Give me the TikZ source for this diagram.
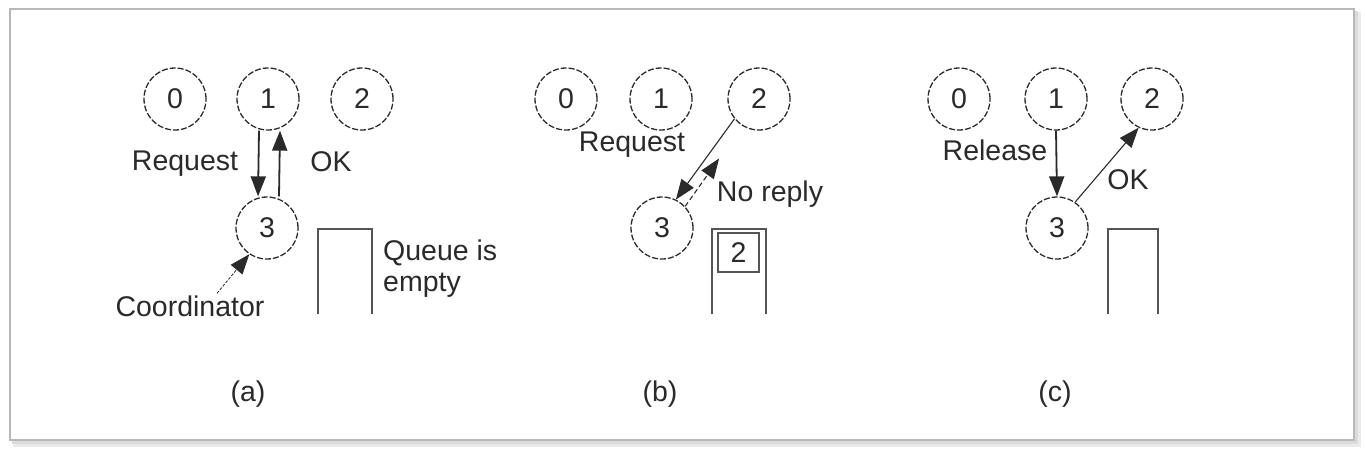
\documentclass[tikz,border=0pt]{standalone}
\usepackage{fontspec}
\setmainfont{Liberation Sans}
\usetikzlibrary{calc,arrows.meta}
\definecolor{ink}{HTML}{2A2A2A}
\definecolor{frm}{HTML}{B8B8B8}
\tikzset{
  proc/.style={circle,draw=ink,dash pattern=on 6pt off 2pt,line width=1.3pt,minimum size=62pt,inner sep=0pt,text=ink,font=\fontsize{28.5}{31}\selectfont},
  lbl/.style={text=ink,font=\fontsize{28.5}{31}\selectfont,inner sep=0pt},
  arr/.style={draw=ink,line width=1.8pt,-{Triangle[length=20pt,width=15pt]}},
  thinarr/.style={draw=ink,line width=1.1pt,-{Triangle[length=20pt,width=15pt]}},
  queue/.style={draw=ink!80,line width=1.5pt},
}
\begin{document}
\begin{tikzpicture}[x=1pt,y=-1pt]
\useasboundingbox (0,0) rectangle (1365,453);
% frame with shadow
\draw[draw=black!8,line width=6pt] (16,15) rectangle (1358,444);
\draw[draw=black!14,line width=3pt] (13,12) rectangle (1356,442);
\draw[fill=white,draw=frm,line width=2pt] (10,9) rectangle (1354,440);

% ---------- (a)
\node[proc] (a0) at (175,99) {0};
\node[proc] (a1) at (268,99) {1};
\node[proc] (a2) at (362,99) {2};
\node[proc] (a3) at (267,228) {3};
\draw[arr] ([xshift=-9pt]a1.south) -- ([xshift=-9pt]a3.north);
\draw[arr] ([xshift=12pt]a3.north) -- ([xshift=12pt]a1.south);
\node[lbl] (areq) at (185,164) {Request};
\node[lbl] (aok) at (331,162) {OK};
\node[lbl] (acoord) at (190,306) {Coordinator};
\draw[draw=ink,line width=0.8pt,dash pattern=on 3pt off 1.5pt,-{Triangle[length=20pt,width=15pt]}] ([xshift=27pt,yshift=2pt]acoord.north) -- (a3.236);
\draw[queue] (318,314) |- (372,229) -- (372,314);
\node[lbl,align=left,anchor=west] (aq) at (383,269) {Queue is\\empty};
\node[lbl] (acap) at (248,394) {(a)};

% ---------- (b)
\node[proc] (b0) at (566,99) {0};
\node[proc] (b1) at (661,99) {1};
\node[proc] (b2) at (759,99) {2};
\node[proc] (b3) at (662,228) {3};
\draw[thinarr] (b2.219) -- (b3.64);
\draw[thinarr,dash pattern=on 5pt off 3pt] (b3.43) -- (b2.238) [shorten >=40pt];
\node[lbl] (breq) at (632,145) {Request};
\node[lbl] (bno) at (770,194) {No reply};
\draw[queue] (712,314) |- (766,229) -- (766,314);
\node[draw=ink!80,line width=1.5pt,minimum width=41pt,minimum height=39pt,inner sep=0pt,lbl] (bq2) at (738.5,252.5) {2};
\node[lbl] (bcap) at (660,394) {(b)};

% ---------- (c)
\node[proc] (c0) at (959,99) {0};
\node[proc] (c1) at (1056,99) {1};
\node[proc] (c2) at (1152,99) {2};
\node[proc] (c3) at (1057,228) {3};
\draw[arr] (c1.south) -- (c3.north);
\draw[thinarr] (c3.55) -- (c2.245);
\node[lbl] (crel) at (995,150) {Release};
\node[lbl] (cok) at (1128,180) {OK};
\draw[queue] (1108,314) |- (1158,229) -- (1158,314);
\node[lbl] (ccap) at (1055,394) {(c)};
\end{tikzpicture}
\end{document}
